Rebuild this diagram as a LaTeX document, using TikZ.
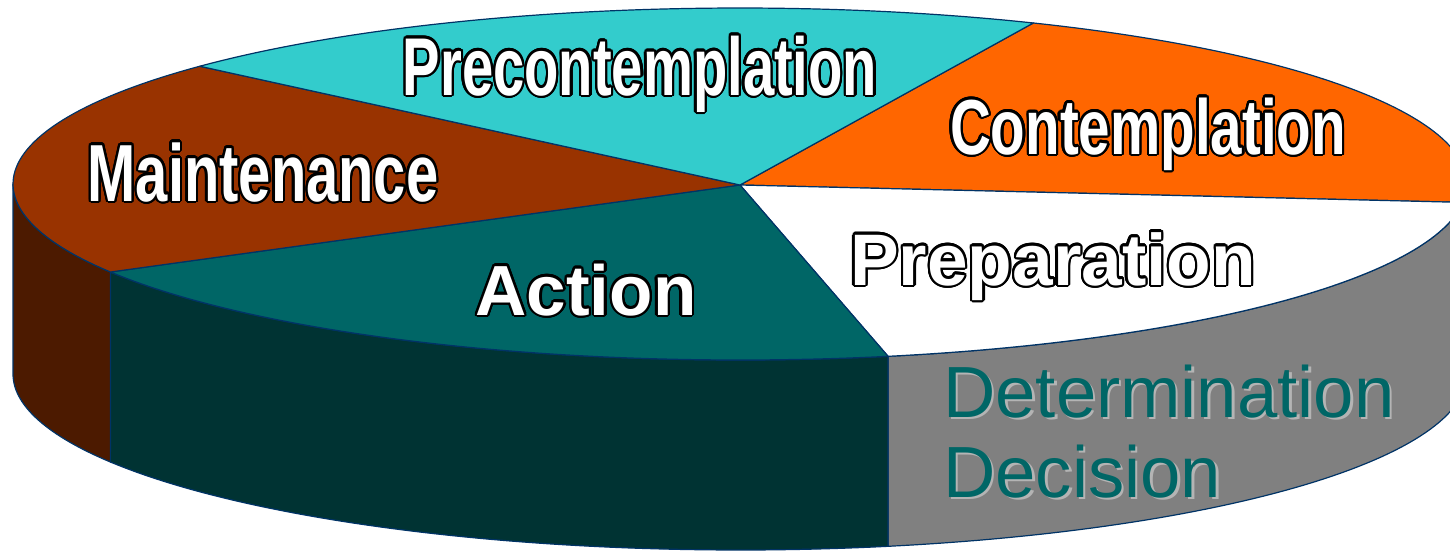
\documentclass[tikz,border=0pt]{standalone}
\usepackage{fontspec}
\setmainfont{Liberation Sans}
\usepackage{graphicx}
\usepackage{contour}
\contourlength{2.2pt}
\contournumber{24}
\definecolor{cPre}{HTML}{33CCCC}
\definecolor{cCon}{HTML}{FF6600}
\definecolor{cMain}{HTML}{993300}
\definecolor{cMainSide}{HTML}{4C1A00}
\definecolor{cAct}{HTML}{006666}
\definecolor{cActSide}{HTML}{003333}
\definecolor{cPrepSide}{HTML}{808080}
\definecolor{cRim}{HTML}{003366}
\definecolor{cShadow}{HTML}{B4B4B4}
\newcommand{\olab}[2]{\contour{black}{\scalebox{#1}[1]{#2}}}
\newcommand{\pieTop}[3]{\filldraw[fill=#3, rim] (740,185) -- plot[domain=#1:#2,samples=60] ({740+727*cos(\x)},{184+176*sin(\x)}) -- cycle;}
\newcommand{\pieSide}[3]{\filldraw[fill=#3, rim] plot[domain=#1:#2,samples=60] ({740+727*cos(\x)},{184+176*sin(\x)}) -- plot[domain=#2:#1,samples=60] ({740+727*cos(\x)},{374+176*sin(\x)}) -- cycle;}
\begin{document}
\begin{tikzpicture}[x=1pt,y=-1pt,
  rim/.style={draw=cRim, line width=1.2pt, line join=round},
  olabel/.style={text=white, inner sep=0pt, anchor=base},
  detlabel/.style={inner sep=0pt, anchor=base west, font=\fontsize{72.5}{80}\selectfont}]
\useasboundingbox (0,0) rectangle (1450,550);
\clip (0,0) rectangle (1450,550);
% side faces
\pieSide{0}{6}{cCon}
\pieSide{6}{78.25}{cPrepSide}
\pieSide{78.25}{150}{cActSide}
\pieSide{150}{180}{cMainSide}
% top faces
\pieTop{-66.2}{6}{cCon}
\pieTop{6}{78.25}{white}
\pieTop{78.25}{150}{cAct}
\pieTop{150}{222}{cMain}
\pieTop{222}{293.8}{cPre}
% labels
\node[olabel, font=\fontsize{82}{90}\selectfont\bfseries] (pre) at (640,95) {\olab{0.685}{Precontemplation}};
\node[olabel, font=\fontsize{78}{86}\selectfont\bfseries] (con) at (1148,154) {\olab{0.725}{Contemplation}};
\node[olabel, font=\fontsize{81}{88}\selectfont\bfseries] (mai) at (263,201) {\olab{0.715}{Maintenance}};
\node[olabel, font=\fontsize{71}{80}\selectfont\bfseries] (act) at (586,315) {\olab{1}{Action}};
\node[olabel, font=\fontsize{73}{80}\selectfont\bfseries] (prep) at (1053,285) {\olab{1}{Preparation}};
\node[detlabel, text=cShadow] (detS) at (945.5,419.5) {Determination};
\node[detlabel, text=cAct] (det) at (943,417) {Determination};
\node[detlabel, text=cShadow] (decS) at (945.5,499.5) {Decision};
\node[detlabel, text=cAct] (dec) at (943,497) {Decision};
\end{tikzpicture}
\end{document}
